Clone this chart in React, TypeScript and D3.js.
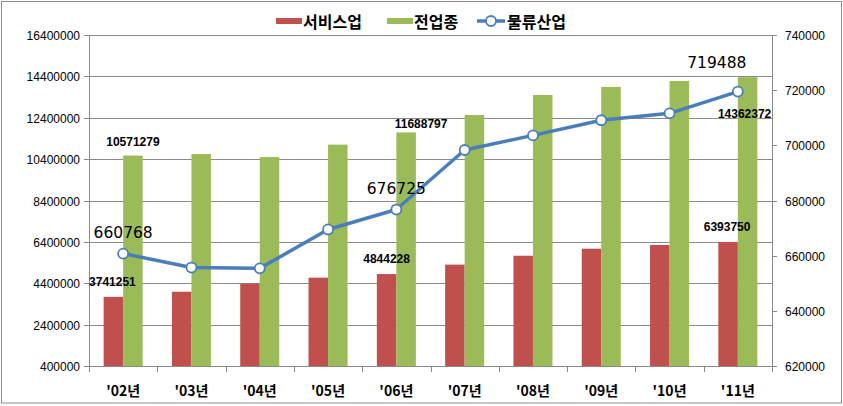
import { useEffect, useRef } from "react";
import * as d3 from "d3";

// ── Data ─────────────────────────────────────────────────────
const years = ["'02년", "'03년", "'04년", "'05년", "'06년", "'07년", "'08년", "'09년", "'10년", "'11년"];
const service = [3741251, 3990000, 4380000, 4670000, 4844228, 5300000, 5730000, 6070000, 6250000, 6393750];
const allIndustry = [10571279, 10645000, 10500000, 11100000, 11688797, 12530000, 13500000, 13890000, 14180000, 14362372];
const logistics = [660768, 655700, 655400, 669500, 676725, 698300, 703600, 709100, 711600, 719488];
const leftTicks = [400000, 2400000, 4400000, 6400000, 8400000, 10400000, 12400000, 14400000, 16400000];
const rightTicks = [620000, 640000, 660000, 680000, 700000, 720000, 740000];

// labelled points: series, index, offset from the mark
const labels = [
  { s: "service", i: 0, dx: -1, dy: -15 },
  { s: "service", i: 4, dx: 0, dy: -15 },
  { s: "service", i: 9, dx: -1, dy: -15 },
  { s: "all", i: 0, dx: 0, dy: -14 },
  { s: "all", i: 4, dx: 15, dy: -8 },
  { s: "all", i: 9, dx: -3, dy: 37 },
  { s: "logistics", i: 0, dx: 0, dy: -21 },
  { s: "logistics", i: 4, dx: 0, dy: -21 },
  { s: "logistics", i: 9, dx: -21, dy: -29 },
];

const RED = "#C0504D";
const GREEN = "#9BBB59";
const BLUE = "#4A7EBB";
const GRID = "#8a8a8a";

export default function App() {
  const ref = useRef<SVGSVGElement>(null);

  useEffect(() => {
    document.body.style.margin = "0";
    if (!ref.current) return;
    const svg = d3.select(ref.current);
    svg.selectAll("*").remove();

    const W = 843, H = 406;
    const left = 89, right = 772, top = 35, bottom = 366;
    const font = "'Liberation Sans', Arial, sans-serif";
    const bigFont = "'DejaVu Sans', sans-serif";
    const kfont = "'Noto Sans CJK KR', 'Liberation Sans', sans-serif";

    svg.append("rect").attr("width", W).attr("height", H).attr("fill", "white");
    svg.append("rect")
      .attr("x", 1.5).attr("y", 1.5).attr("width", 840).attr("height", 401.5)
      .attr("fill", "none").attr("stroke", "#8c8c8c").attr("stroke-width", 1);

    const x = d3.scaleBand<string>().domain(years).range([left, right]);
    const x1 = d3.scaleBand<string>().domain(["service", "all"]).range([0, x.bandwidth()]).paddingInner(0).paddingOuter(0.75);
    const yL = d3.scaleLinear().domain([400000, 16400000]).range([bottom, top]);
    const yR = d3.scaleLinear().domain([620000, 740000]).range([bottom, top]);

    // grid
    leftTicks.forEach((t) => {
      const y = Math.round(yL(t)) + 0.5;
      svg.append("line").attr("x1", left - 5).attr("x2", right).attr("y1", y).attr("y2", y)
        .attr("stroke", GRID).attr("stroke-width", 1);
      svg.append("text").attr("x", left - 9).attr("y", y).attr("text-anchor", "end")
        .attr("dominant-baseline", "central").attr("font-family", font).attr("font-size", 12)
        .attr("fill", "#000").text(t);
    });
    rightTicks.forEach((t) => {
      const y = Math.round(yR(t)) + 0.5;
      svg.append("line").attr("x1", right).attr("x2", right + 5).attr("y1", y).attr("y2", y)
        .attr("stroke", GRID);
      svg.append("text").attr("x", right + 13).attr("y", y)
        .attr("dominant-baseline", "central").attr("font-family", font).attr("font-size", 12)
        .attr("fill", "#000").text(t);
    });

    // bars
    years.forEach((yr, i) => {
      const x0 = x(yr)!;
      svg.append("rect").attr("x", x0 + x1("service")!).attr("y", yL(service[i]))
        .attr("width", x1.bandwidth()).attr("height", bottom - yL(service[i])).attr("fill", RED);
      svg.append("rect").attr("x", x0 + x1("all")!).attr("y", yL(allIndustry[i]))
        .attr("width", x1.bandwidth()).attr("height", bottom - yL(allIndustry[i])).attr("fill", GREEN);
    });

    // axes lines
    svg.append("line").attr("x1", left + 0.5).attr("x2", left + 0.5).attr("y1", top).attr("y2", bottom)
      .attr("stroke", GRID);
    svg.append("line").attr("x1", right + 0.5).attr("x2", right + 0.5).attr("y1", top).attr("y2", bottom)
      .attr("stroke", GRID);
    svg.append("line").attr("x1", left).attr("x2", right).attr("y1", bottom + 0.5).attr("y2", bottom + 0.5)
      .attr("stroke", GRID);
    years.concat([""]).forEach((yr, i) => {
      const xx = Math.round(i < years.length ? x(yr)! : right) + 0.5;
      svg.append("line").attr("x1", xx).attr("x2", xx).attr("y1", bottom).attr("y2", bottom + 6)
        .attr("stroke", GRID);
    });
    years.forEach((yr) => {
      svg.append("text").attr("x", x(yr)! + x.bandwidth() / 2).attr("y", 390)
        .attr("text-anchor", "middle").attr("dominant-baseline", "central")
        .attr("font-family", kfont).attr("font-size", 14).attr("font-weight", "bold")
        .attr("fill", "#000").text(yr);
    });

    // line series
    const cx = (i: number) => x(years[i])! + x.bandwidth() / 2;
    const line = d3.line<number>().x((_, i) => cx(i)).y((d) => yR(d));
    svg.append("path").attr("d", line(logistics)).attr("fill", "none")
      .attr("stroke", BLUE).attr("stroke-width", 3.5).attr("stroke-linejoin", "round");
    logistics.forEach((v, i) => {
      svg.append("circle").attr("cx", cx(i)).attr("cy", yR(v)).attr("r", 5)
        .attr("fill", "white").attr("stroke", BLUE).attr("stroke-width", 1.8);
    });

    // data labels
    labels.forEach((l) => {
      let px = 0, py = 0, size = 12, weight = "bold", v = 0, fam = font;
      if (l.s === "service") {
        v = service[l.i];
        px = x(years[l.i])! + x1("service")! + x1.bandwidth() / 2;
        py = yL(v);
      } else if (l.s === "all") {
        v = allIndustry[l.i];
        px = x(years[l.i])! + x1("all")! + x1.bandwidth() / 2;
        py = yL(v);
      } else {
        v = logistics[l.i];
        px = cx(l.i);
        py = yR(v);
        size = 15.5;
        weight = "normal";
        fam = bigFont;
      }
      svg.append("text").attr("x", px + l.dx).attr("y", py + l.dy)
        .attr("text-anchor", "middle").attr("dominant-baseline", "central")
        .attr("font-family", fam).attr("font-size", size).attr("font-weight", weight)
        .attr("fill", "#000").text(v);
    });

    // legend
    const ly = 21;
    const leg = svg.append("g").attr("font-family", kfont).attr("font-size", 16).attr("font-weight", "bold");
    leg.append("rect").attr("x", 276).attr("y", ly - 3).attr("width", 26).attr("height", 6).attr("fill", RED);
    leg.append("text").attr("x", 303).attr("y", ly).attr("dominant-baseline", "central").text("서비스업");
    leg.append("rect").attr("x", 387).attr("y", ly - 3).attr("width", 26).attr("height", 6).attr("fill", GREEN);
    leg.append("text").attr("x", 414).attr("y", ly).attr("dominant-baseline", "central").text("전업종");
    leg.append("line").attr("x1", 477).attr("x2", 505).attr("y1", ly).attr("y2", ly)
      .attr("stroke", BLUE).attr("stroke-width", 3.5);
    leg.append("circle").attr("cx", 491).attr("cy", ly).attr("r", 5)
      .attr("fill", "white").attr("stroke", BLUE).attr("stroke-width", 1.8);
    leg.append("text").attr("x", 507).attr("y", ly).attr("dominant-baseline", "central").text("물류산업");
  }, []);

  return <svg ref={ref} width={843} height={406} style={{ position: "absolute", left: 0, top: 0, display: "block" }} />;
}
